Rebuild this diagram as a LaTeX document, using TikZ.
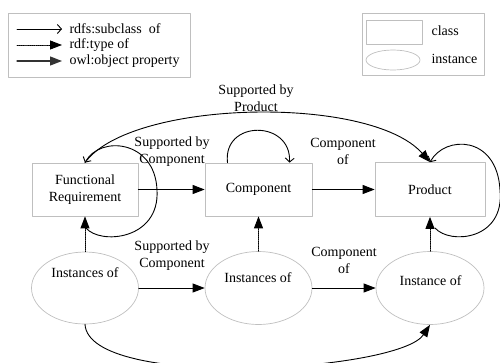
\documentclass[tikz,border=0pt]{standalone}
\usepackage{fontspec}
\setmainfont{Liberation Serif}
\usepackage{tikz}
\usetikzlibrary{calc}
\usetikzlibrary{arrows.meta}
\usetikzlibrary{shapes.geometric}
\definecolor{bfbfbf}{rgb}{0.75,0.75,0.75}
\tikzstyle{every node}=[font=\fontsize{14}{17}\selectfont]
\tikzstyle{classbox}=[draw=bfbfbf,line width=0.7pt,rectangle,inner sep=0pt]
\tikzstyle{instell}=[draw=bfbfbf,line width=0.7pt,ellipse,inner sep=0pt]
\tikzstyle{filled}=[line width=0.9pt,-{Triangle[length=12pt,width=9pt]}]
\tikzstyle{subcls}=[line width=0.9pt,-{Straight Barb[length=4pt,width=9pt]}]

\begin{document}
\begin{tikzpicture}[line cap=round,line join=round,x=1pt,y=-1pt]
                    \useasboundingbox (0,0) rectangle (500,362);
                    \clip (0,0) rectangle (500,362);

                    \draw [draw=bfbfbf,line width=0.7pt] (8,13) rectangle (190,77);
                    \coordinate (sa) at (17,29);
                    \coordinate (sb) at (62,29);
                    \coordinate (ta) at (17,45);
                    \coordinate (tb) at (62,45);
                    \coordinate (oa) at (17,61);
                    \coordinate (ob) at (62,61);
                    \draw [subcls] (sa)-- (sb);
                    \draw [filled,densely dotted] (ta)-- (tb);
                    \draw [filled,line width=1.3pt,color=black!80] (oa)-- (ob);
                    \node [anchor=west] (lsub) at (66,29) {rdfs:subclass\ \ of};
                    \node [anchor=west] (ltype) at (66,45) {rdf:type of};
                    \node [anchor=west] (lprop) at (66,61) {owl:object property};

                    \draw [draw=bfbfbf,line width=0.7pt] (362,13) rectangle (484,75);
                    \node [classbox,minimum width=56,minimum height=24] (lclass) at (394,32) {};
                    \node [instell,minimum width=54,minimum height=20] (linst) at (393,60) {};
                    \node [anchor=west] (lclasstxt) at (428,31) {class};
                    \node [anchor=west] (linsttxt) at (428,59) {instance};

                    \node [classbox,minimum width=106,minimum height=53,align=center] (fr) at (85,189.5) {Functional\\Requirement};
                    \node [classbox,minimum width=107,minimum height=53] (comp) at (258.5,189.5) {Component};
                    \node [classbox,minimum width=110,minimum height=54] (prod) at (430,189.5) {Product};

                    \node [instell,minimum width=107,minimum height=72] (ia) at (85,288) {};
                    \node [instell,minimum width=107,minimum height=73] (ib) at (258.5,288) {};
                    \node [instell,minimum width=108,minimum height=73] (ic) at (430,288) {};
                    \node (iatxt) at (85,273) {Instances of};
                    \node (ibtxt) at (258,278) {Instances of};
                    \node (ictxt) at (430.5,281) {Instance of};

                    \draw [filled] (fr)-- (comp);
                    \draw [filled] (comp)-- (prod);
                    \draw [filled] (ia)-- (ib);
                    \draw [filled] (ib)-- (ic);
                    \draw [filled,densely dotted] (ia.north)-- (fr.south);
                    \draw [filled,densely dotted] (ib.north)-- (comp.south);
                    \draw [filled,densely dotted] (ic.north)-- (prod.south);

                    \draw [filled] (fr.north) .. controls +(45,-63) and +(-60,-68) .. (prod.north);
                    \draw [filled] (ia.south) .. controls +(4,66) and +(-31,47) .. (ic.south);

                    \coordinate (frloop) at (86,228);
                    \coordinate (prloop) at (435,228);
                    \draw [subcls] (frloop) .. controls (100,245) and (160,240) .. (157,190) .. controls (155,140) and (100,135) .. (fr.north);
                    \draw [subcls] ($(comp.north)+(-31,0)$) .. controls +(-5,-43) and +(2,-43) .. ($(comp.north)+(31,0)$);
                    \draw [subcls] (prloop) .. controls (450,245) and (505,240) .. (500,190) .. controls (497,135) and (445,135) .. (prod.north);

                    \node [align=center] (sptop) at (256,98) {Supported by\\Product};
                    \node [align=center] (sctop) at (172,152) {Supported by\\Component};
                    \node [align=center] (cotop) at (343,151) {Component\\of};
                    \node [align=center] (scbot) at (172,256) {Supported by\\Component};
                    \node [align=center] (cobot) at (344,260) {Component\\of};
                    \end{tikzpicture}
\end{document}
